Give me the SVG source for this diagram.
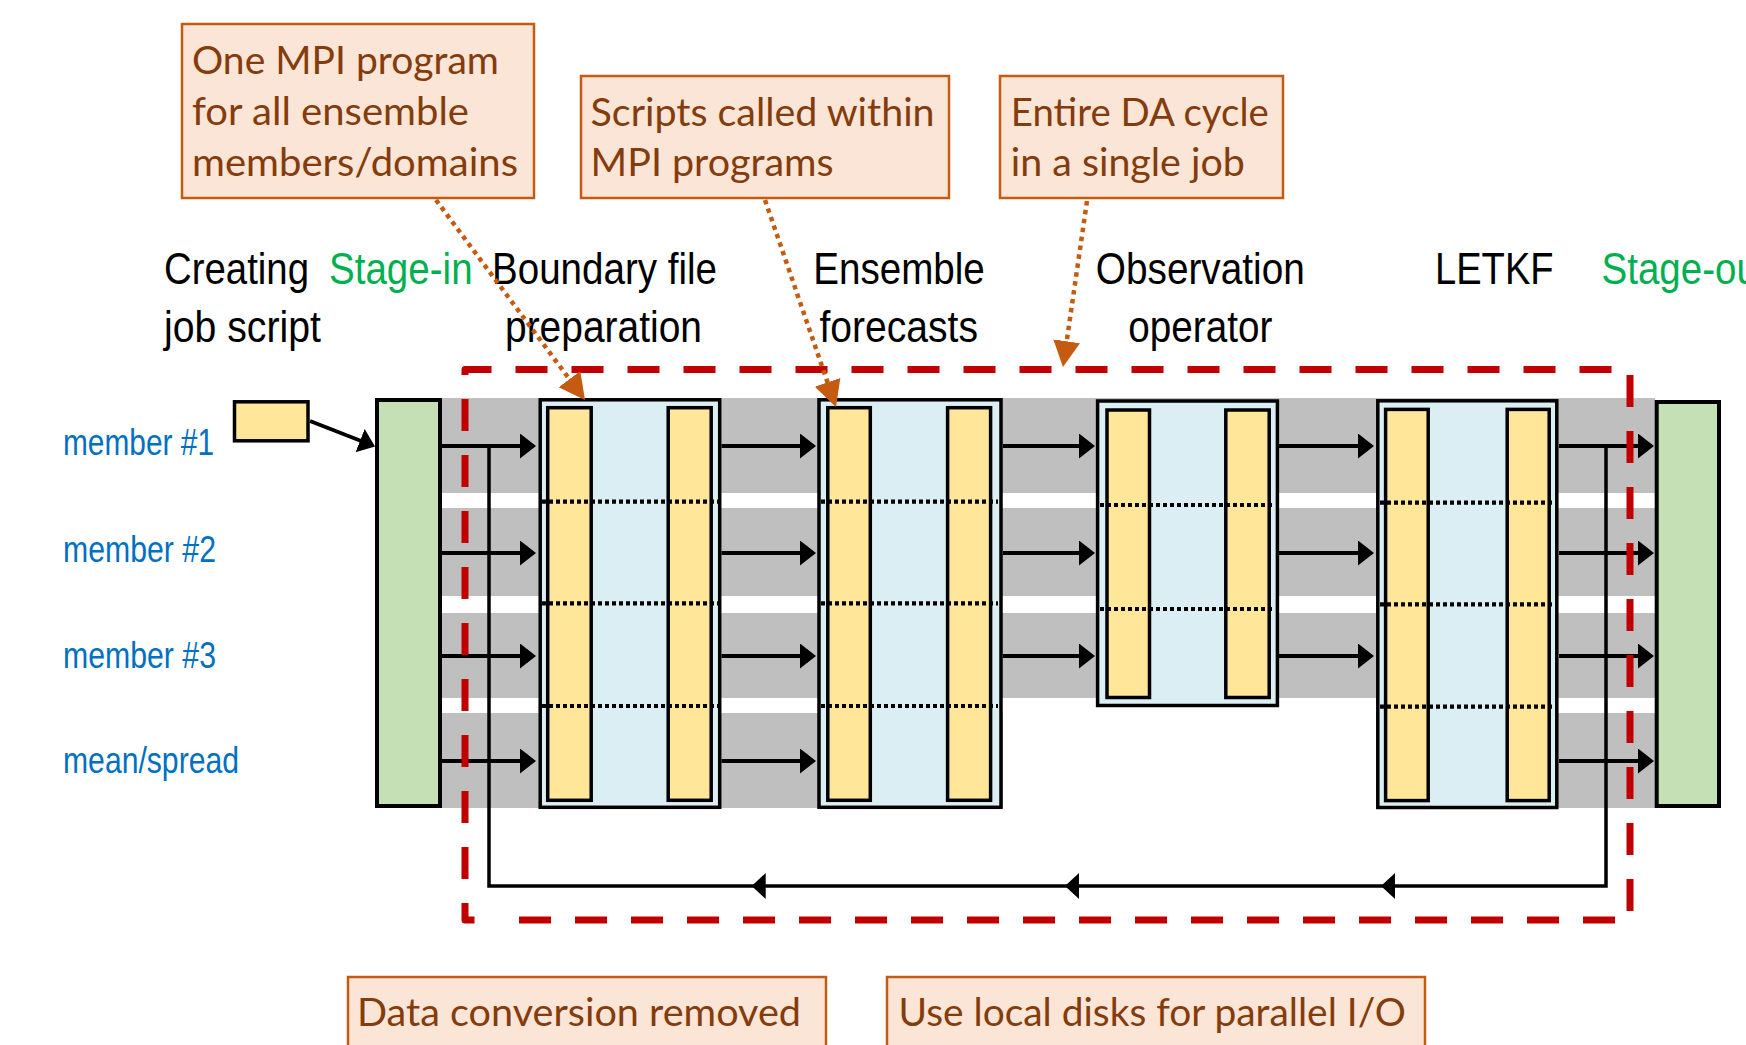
<svg xmlns="http://www.w3.org/2000/svg" width="1746" height="1045" viewBox="0 0 1746 1045">
  <style>
    .band { fill: #BFBFBF; }
    .store { fill: #C5E0B4; stroke: #000; stroke-width: 4; }
    .stage { fill: #DBEEF4; stroke: #000; stroke-width: 3.5; }
    .bar { fill: #FFE699; stroke: #000; stroke-width: 3.5; }
    .split { stroke: #000; stroke-width: 4.2; stroke-dasharray: 4 3; fill: none; }
    .flow { stroke: #000; stroke-width: 3.8; fill: none; marker-end: url(#ah); }
    .loop { stroke: #000; stroke-width: 3.5; fill: none; stroke-linejoin: miter; }
    .job { stroke: #C00000; stroke-width: 7; fill: none; stroke-dasharray: 32 24; stroke-linejoin: round; }
    .note { fill: #FBE5D6; stroke: #C55A11; stroke-width: 2.5; }
    .note-t { font-family: Lato, "Open Sans", sans-serif; font-size: 38px; fill: #843C0C; }
    .lbl { font-family: "Liberation Sans", Arial, sans-serif; font-size: 44px; fill: #000; }
    .io { fill: #00B050; }
    .mem { font-family: "Liberation Sans", Arial, sans-serif; font-size: 36px; fill: #0070C0; }
    .ptr { stroke: #C55A11; stroke-width: 4.5; stroke-dasharray: 4.5 4.5; fill: none; marker-end: url(#oh); }
  </style>
  <defs>
    <marker id="ah" markerUnits="userSpaceOnUse" markerWidth="17" markerHeight="26" refX="6" refY="12.5" orient="auto">
      <path d="M0,0 L16,12.5 L0,25 Z" fill="#000"/>
    </marker>
    <marker id="oh" markerUnits="userSpaceOnUse" markerWidth="28" markerHeight="28" refX="18" refY="13.5" orient="auto">
      <path d="M0,0 L26,13.5 L0,27 Z" fill="#C55A11"/>
    </marker>
    <path id="larrow" d="M0,0 L14,-13 L14,13 Z" fill="#000"/>
  </defs>

  <!-- lanes per member -->
  <g id="lanes">
    <rect class="band" x="442" y="398" width="1213" height="95"/>
    <rect class="band" x="442" y="508" width="1213" height="88"/>
    <rect class="band" x="442" y="613" width="1213" height="85"/>
    <rect class="band" x="442" y="713" width="561" height="95"/>
    <rect class="band" x="1376" y="713" width="279" height="95"/>
  </g>

  <!-- stage-in / stage-out storage -->
  <g id="stage-in">
    <rect class="store" x="377" y="400" width="63" height="406"/>
  </g>
  <g id="stage-out">
    <rect class="store" x="1656.7" y="402" width="62.3" height="404"/>
  </g>
  <g id="job-script">
    <rect class="bar" x="234.5" y="401.8" width="73.5" height="39"/>
  </g>

  <!-- MPI program stages -->
  <g id="boundary-prep">
    <rect class="stage" x="540.2" y="399.8" width="179.5" height="407.5"/>
    <rect class="bar" x="547.7" y="407.7" width="43.5" height="392.6"/>
    <rect class="bar" x="668.2" y="407.7" width="43" height="392.6"/>
    <path class="split" d="M542,501.7 H718 M542,603.3 H718 M542,706 H718"/>
  </g>
  <g id="ensemble-forecasts">
    <rect class="stage" x="819" y="399.8" width="182" height="407.5"/>
    <rect class="bar" x="827.8" y="407.7" width="42.5" height="392.6"/>
    <rect class="bar" x="947.6" y="407.7" width="43" height="392.6"/>
    <path class="split" d="M821,501.7 H998 M821,603.3 H998 M821,706 H998"/>
  </g>
  <g id="observation-operator">
    <rect class="stage" x="1097.6" y="401" width="179.8" height="304.5"/>
    <rect class="bar" x="1107" y="410" width="42.5" height="287.5"/>
    <rect class="bar" x="1225.8" y="410" width="43.4" height="287.5"/>
    <path class="split" d="M1100,505 H1275 M1100,609 H1275"/>
  </g>
  <g id="letkf">
    <rect class="stage" x="1377.8" y="400.8" width="179" height="406.7"/>
    <rect class="bar" x="1385.6" y="409.4" width="42.6" height="391.2"/>
    <rect class="bar" x="1507.2" y="409.4" width="42" height="391.2"/>
    <path class="split" d="M1380,502.7 H1555 M1380,604.3 H1555 M1380,706.7 H1555"/>
  </g>

  <!-- data flow between stages and the cycle feedback -->
  <g id="connectors">
    <line class="flow" x1="310" y1="421" x2="365.7" y2="442.8"/>
    <path class="flow" d="M442,446 H526"/>
    <path class="flow" d="M442,553 H526"/>
    <path class="flow" d="M442,656 H526"/>
    <path class="flow" d="M442,761 H526"/>
    <path class="flow" d="M721.5,446 H806"/>
    <path class="flow" d="M721.5,553 H806"/>
    <path class="flow" d="M721.5,656 H806"/>
    <path class="flow" d="M721.5,761 H806"/>
    <path class="flow" d="M1003,446 H1085"/>
    <path class="flow" d="M1003,553 H1085"/>
    <path class="flow" d="M1003,656 H1085"/>
    <path class="flow" d="M1279,446 H1364"/>
    <path class="flow" d="M1279,553 H1364"/>
    <path class="flow" d="M1279,656 H1364"/>
    <path class="flow" d="M1559,446 H1644"/>
    <path class="flow" d="M1559,553 H1644"/>
    <path class="flow" d="M1559,656 H1644"/>
    <path class="flow" d="M1559,761 H1644"/>
    <path class="loop" d="M1606,446 V886 H489 V446"/>
    <use href="#larrow" x="751.7" y="886"/>
    <use href="#larrow" x="1065" y="886"/>
    <use href="#larrow" x="1381" y="886"/>
  </g>

  <!-- single job boundary -->
  <g id="single-job">
    <path class="job" d="M465,375 V369.5 H1630 V920 H500"/>
    <path class="job" stroke-dashoffset="5.5" d="M474.5,920 H465 V375"/>
  </g>

  <!-- step titles -->
  <g id="titles">
    <text class="lbl" x="164" y="284" textLength="145" lengthAdjust="spacingAndGlyphs">Creating</text>
    <text class="lbl" x="164" y="341.5" textLength="157" lengthAdjust="spacingAndGlyphs">job script</text>
    <text class="lbl io" x="329" y="284" textLength="143.6" lengthAdjust="spacingAndGlyphs">Stage-in</text>
    <text class="lbl" x="492" y="284" textLength="225" lengthAdjust="spacingAndGlyphs">Boundary file</text>
    <text class="lbl" x="505" y="341.5" textLength="197" lengthAdjust="spacingAndGlyphs">preparation</text>
    <text class="lbl" x="813.3" y="284" textLength="171.5" lengthAdjust="spacingAndGlyphs">Ensemble</text>
    <text class="lbl" x="819.5" y="341.5" textLength="158.5" lengthAdjust="spacingAndGlyphs">forecasts</text>
    <text class="lbl" x="1095.8" y="284" textLength="209" lengthAdjust="spacingAndGlyphs">Observation</text>
    <text class="lbl" x="1128.3" y="341.5" textLength="144" lengthAdjust="spacingAndGlyphs">operator</text>
    <text class="lbl" x="1435" y="284" textLength="118.6" lengthAdjust="spacingAndGlyphs">LETKF</text>
    <text class="lbl io" x="1601.5" y="284" textLength="167" lengthAdjust="spacingAndGlyphs">Stage-out</text>
  </g>

  <!-- member rows -->
  <g id="members">
    <text class="mem" x="63" y="455" textLength="151" lengthAdjust="spacingAndGlyphs">member #1</text>
    <text class="mem" x="63" y="561.7" textLength="153" lengthAdjust="spacingAndGlyphs">member #2</text>
    <text class="mem" x="63" y="667.7" textLength="153" lengthAdjust="spacingAndGlyphs">member #3</text>
    <text class="mem" x="63" y="773.3" textLength="176" lengthAdjust="spacingAndGlyphs">mean/spread</text>
  </g>

  <!-- notes -->
  <g id="note-mpi">
    <rect class="note" x="182" y="24" width="352" height="174"/>
    <text class="note-t" x="192" y="74" textLength="307" lengthAdjust="spacingAndGlyphs">One MPI program</text>
    <text class="note-t" x="192" y="125" textLength="277" lengthAdjust="spacingAndGlyphs">for all ensemble</text>
    <text class="note-t" x="192" y="175.5" textLength="326" lengthAdjust="spacingAndGlyphs">members/domains</text>
  </g>
  <g id="note-scripts">
    <rect class="note" x="581" y="76" width="368" height="122"/>
    <text class="note-t" x="590.6" y="126" textLength="344" lengthAdjust="spacingAndGlyphs">Scripts called within</text>
    <text class="note-t" x="590.6" y="176" textLength="243" lengthAdjust="spacingAndGlyphs">MPI programs</text>
  </g>
  <g id="note-cycle">
    <rect class="note" x="1000" y="76" width="283" height="122"/>
    <text class="note-t" x="1010.8" y="126" textLength="258" lengthAdjust="spacingAndGlyphs">Entire DA cycle</text>
    <text class="note-t" x="1010.8" y="176" textLength="234" lengthAdjust="spacingAndGlyphs">in a single job</text>
  </g>
  <g id="note-conversion">
    <rect class="note" x="348" y="977" width="478" height="100"/>
    <text class="note-t" x="357" y="1025.7" textLength="444" lengthAdjust="spacingAndGlyphs">Data conversion removed</text>
  </g>
  <g id="note-disks">
    <rect class="note" x="887" y="977" width="538" height="100"/>
    <text class="note-t" x="898.5" y="1025.7" textLength="507.5" lengthAdjust="spacingAndGlyphs">Use local disks for parallel I/O</text>
  </g>

  <!-- note pointers -->
  <g id="pointers">
    <line class="ptr" x1="436" y1="200" x2="580.2" y2="393.6"/>
    <line class="ptr" x1="765" y1="200" x2="833.4" y2="399.4"/>
    <line class="ptr" x1="1087" y1="201" x2="1064.1" y2="359.1"/>
  </g>
</svg>
